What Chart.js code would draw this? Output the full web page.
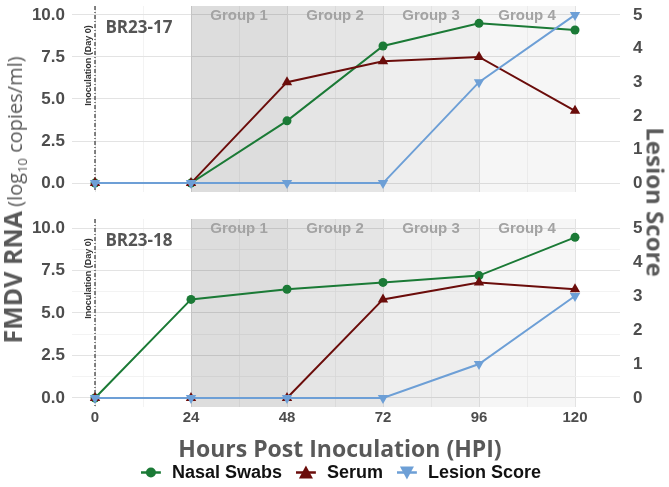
<!DOCTYPE html>
<html>
<head>
<meta charset="utf-8">
<script src="https://cdn.jsdelivr.net/npm/chart.js@4.4.1/dist/chart.umd.min.js"></script>
<style>
    body { margin: 0; background: #fff; width: 669px; height: 487px; position: relative; overflow: hidden; font-family: 'Liberation Sans', Arial, sans-serif; }
    .panel { position: absolute; left: 0; width: 669px; }
    #boxTop { top: 0; height: 200px; }
    #boxBot { top: 210px; height: 225px; }
    .ytitle { position: absolute; white-space: nowrap; color: #595959; font-family: 'Open Sans', sans-serif; }
    #yLeft { left: 13px; top: 200px; transform: translate(-50%, -50%) rotate(-90deg); }
    #yLeft b { font-size: 25px; font-weight: 700; }
    #yLeft span { font-size: 20px; font-weight: 400; }
    #yRight { left: 656px; top: 202px; transform: translate(-50%, -50%) rotate(90deg); font-size: 24px; font-weight: 700; }
    #xTitle { position: absolute; left: 340px; top: 448px; transform: translate(-50%, -50%); white-space: nowrap; color: #595959; font-family: 'Open Sans', sans-serif; font-size: 23px; font-weight: 700; }
    #legend { position: absolute; left: 341px; top: 472px; transform: translate(-50%, -50%); white-space: nowrap; display: flex; align-items: center; font-weight: 700; font-size: 18px; color: #111; }
    #legend .item { display: flex; align-items: center; margin: 0 7px; }
    #legend svg { margin-right: 11px; }
</style>
</head>
<body>
<div class="panel" id="boxTop"><canvas id="chartTop"></canvas></div>
<div class="panel" id="boxBot"><canvas id="chartBot"></canvas></div>
<div class="ytitle" id="yLeft"><b>FMDV RNA</b> <span>(log<sub style="font-size:13px">10</sub> copies/ml)</span></div>
<div class="ytitle" id="yRight">Lesion Score</div>
<div id="xTitle">Hours Post Inoculation (HPI)</div>
<div id="legend"></div>

<script>
// ===== datos =====
const horas = [0, 24, 48, 72, 96, 120];

const nasal17  = [0, 0, 3.7, 8.15, 9.5, 9.1];
const suero17  = [0, 0, 6.0, 7.25, 7.5, 4.3];
const lesion17 = [0, 0, 0, 0, 3, 5];

const nasal18  = [0, 5.8, 6.4, 6.8, 7.2, 9.45];
const suero18  = [0, 0, 0, 5.8, 6.8, 6.4];
const lesion18 = [0, 0, 0, 0, 1, 3];

const grupos      = ['Group 1', 'Group 2', 'Group 3', 'Group 4'];
const grupoInicio = [24, 48, 72, 96];
const grupoFin    = [48, 72, 96, 120];

const xTicks      = [0, 12, 24, 36, 48, 60, 72, 84, 96, 108, 120];
const xEtiquetas  = [0, 24, 48, 72, 96, 120];
const yTicks      = [0, 1.25, 2.5, 3.75, 5, 6.25, 7.5, 8.75, 10];
const yEtiquetas  = [0, 2.5, 5, 7.5, 10];
const y2Ticks     = [0, 1, 2, 3, 4, 5];

const series = [
    { label: 'Nasal Swabs',  color: '#1b7a36', style: 'circle',   rot: 0,   radius: 4.5 },
    { label: 'Serum',        color: '#6b0d0b', style: 'triangle', rot: 0,   radius: 6 },
    { label: 'Lesion Score', color: '#6d9fd6', style: 'triangle', rot: 180, radius: 6 }
];

const sombras = ['rgba(0,0,0,0.135)', 'rgba(0,0,0,0.10)', 'rgba(0,0,0,0.065)', 'rgba(0,0,0,0.035)'];

function puntos(arr) {
    return horas.map((h, i) => ({ x: h, y: arr[i] }));
}

// quitar el relleno automatico de las etiquetas
function sinRelleno(s) {
    s.paddingTop = 0;
    s.paddingBottom = 0;
    s.paddingLeft = 0;
    s.paddingRight = 0;
}

// Plugin para sombras, grupos y textos del panel
const decoPanel = {
    id: 'decoPanel',
    beforeDatasetsDraw(chart, args, opts) {
        const ctx = chart.ctx;
        const a = chart.chartArea;
        const xs = chart.scales.x;
        ctx.save();
        // sombras de grupos
        grupos.forEach((g, i) => {
            const x1 = xs.getPixelForValue(grupoInicio[i]);
            const x2 = xs.getPixelForValue(grupoFin[i]);
            ctx.fillStyle = sombras[i];
            ctx.fillRect(x1, a.top, x2 - x1, a.bottom - a.top);
            ctx.fillStyle = '#a3a3a3';
            ctx.font = 'bold 15px "Liberation Sans", Arial, sans-serif';
            ctx.textAlign = 'center';
            ctx.textBaseline = 'middle';
            ctx.fillText(g, (x1 + x2) / 2, a.top + 10);
        });
        // linea de inoculacion
        const x0 = xs.getPixelForValue(0);
        ctx.strokeStyle = '#444';
        ctx.lineWidth = 1.3;
        ctx.setLineDash([4, 2, 1, 2]);
        ctx.beginPath();
        ctx.moveTo(x0, a.top);
        ctx.lineTo(x0, a.bottom);
        ctx.stroke();
        ctx.setLineDash([]);
        ctx.save();
        ctx.translate(x0 - 6.5, a.top + 59.5);
        ctx.rotate(-Math.PI / 2);
        ctx.fillStyle = '#333';
        ctx.font = 'bold 9px "Liberation Sans", Arial, sans-serif';
        ctx.textAlign = 'center';
        ctx.textBaseline = 'middle';
        ctx.fillText('Inoculation (Day 0)', 0, 0);
        ctx.restore();
        // etiqueta del panel
        ctx.fillStyle = '#555';
        ctx.font = 'bold 17px "Open Sans", sans-serif';
        ctx.textAlign = 'left';
        ctx.textBaseline = 'middle';
        ctx.fillText(opts.etiqueta, xs.getPixelForValue(2.6), a.top + 22);
        ctx.restore();
    }
};

function crearPanel(id, etiqueta, nasal, suero, lesion, abajo) {
    const datos = [nasal, suero, lesion];
    return new Chart(document.getElementById(id), {
        type: 'line',
        data: {
            datasets: series.map((s, i) => ({
                label: s.label,
                data: puntos(datos[i]),
                yAxisID: i === 2 ? 'y2' : 'y',
                borderColor: s.color,
                backgroundColor: s.color,
                borderWidth: 2,
                pointStyle: s.style,
                pointRotation: s.rot,
                pointRadius: s.radius,
                pointBorderWidth: 0,
                clip: false,
                order: 3 - i
            }))
        },
        options: {
            responsive: true,
            maintainAspectRatio: false,
            animation: false,
            events: [],
            layout: { padding: { top: abajo ? 9 : 4, bottom: 0, left: 0, right: 0 } },
            plugins: {
                legend: { display: false },
                tooltip: { enabled: false },
                decoPanel: { etiqueta: etiqueta }
            },
            scales: {
                x: {
                    type: 'linear',
                    min: -5.75,
                    max: 131.25,
                    afterBuildTicks: s => { s.ticks = xTicks.map(v => ({ value: v })); },
                    afterFit: s => { s.height = abajo ? 28 : 8; sinRelleno(s); },
                    border: { display: false },
                    grid: {
                        drawTicks: false,
                        color: c => (c.tick && c.tick.value % 24 === 0) ? '#e3e3e3' : '#f0f0f0',
                        lineWidth: c => (c.tick && c.tick.value % 24 === 0) ? 1 : 0.8
                    },
                    ticks: {
                        display: abajo,
                        autoSkip: false,
                        maxRotation: 0,
                        padding: 2,
                        color: '#4d4d4d',
                        font: { family: '"Liberation Sans", Arial, sans-serif', size: 15, weight: 'bold' },
                        callback: v => xEtiquetas.includes(v) ? String(v) : ''
                    }
                },
                y: {
                    position: 'left',
                    min: -0.53,
                    max: 10.53,
                    afterBuildTicks: s => { s.ticks = yTicks.map(v => ({ value: v })); },
                    afterFit: s => { s.width = 72; sinRelleno(s); },
                    border: { display: false },
                    grid: {
                        drawTicks: false,
                        color: c => (c.tick && yEtiquetas.includes(c.tick.value)) ? '#e3e3e3' : '#f0f0f0',
                        lineWidth: c => (c.tick && yEtiquetas.includes(c.tick.value)) ? 1 : 0.8
                    },
                    ticks: {
                        padding: 7,
                        color: '#4d4d4d',
                        font: { family: '"Liberation Sans", Arial, sans-serif', size: 17, weight: 'bold' },
                        callback: v => yEtiquetas.includes(v) ? v.toFixed(1) : ''
                    }
                },
                y2: {
                    position: 'right',
                    min: -0.265,
                    max: 5.265,
                    afterBuildTicks: s => { s.ticks = y2Ticks.map(v => ({ value: v })); },
                    afterFit: s => { s.width = 49; sinRelleno(s); },
                    border: { display: false },
                    grid: { display: false },
                    ticks: {
                        padding: 5,
                        color: '#4d4d4d',
                        font: { family: '"Liberation Sans", Arial, sans-serif', size: 17, weight: 'bold' },
                        callback: v => String(v)
                    }
                }
            }
        },
        plugins: [decoPanel]
    });
}

// Leyenda en HTML
function crearLeyenda() {
    const cont = document.getElementById('legend');
    series.forEach(s => {
        let marca;
        if (s.style === 'circle') {
            marca = '<circle cx="10" cy="8" r="5" fill="' + s.color + '"/>';
        } else if (s.rot === 0) {
            marca = '<polygon points="10,1 17,14 3,14" fill="' + s.color + '"/>';
        } else {
            marca = '<polygon points="3,2 17,2 10,15" fill="' + s.color + '"/>';
        }
        const item = document.createElement('div');
        item.className = 'item';
        item.innerHTML = '<svg width="20" height="16"><line x1="0" y1="8" x2="20" y2="8" stroke="' + s.color + '" stroke-width="2.5"/>' + marca + '</svg><span>' + s.label + '</span>';
        cont.appendChild(item);
    });
}

document.addEventListener('DOMContentLoaded', function() {
    crearPanel('chartTop', 'BR23-17', nasal17, suero17, lesion17, false);
    crearPanel('chartBot', 'BR23-18', nasal18, suero18, lesion18, true);
    crearLeyenda();
});
</script>
</body>
</html>
